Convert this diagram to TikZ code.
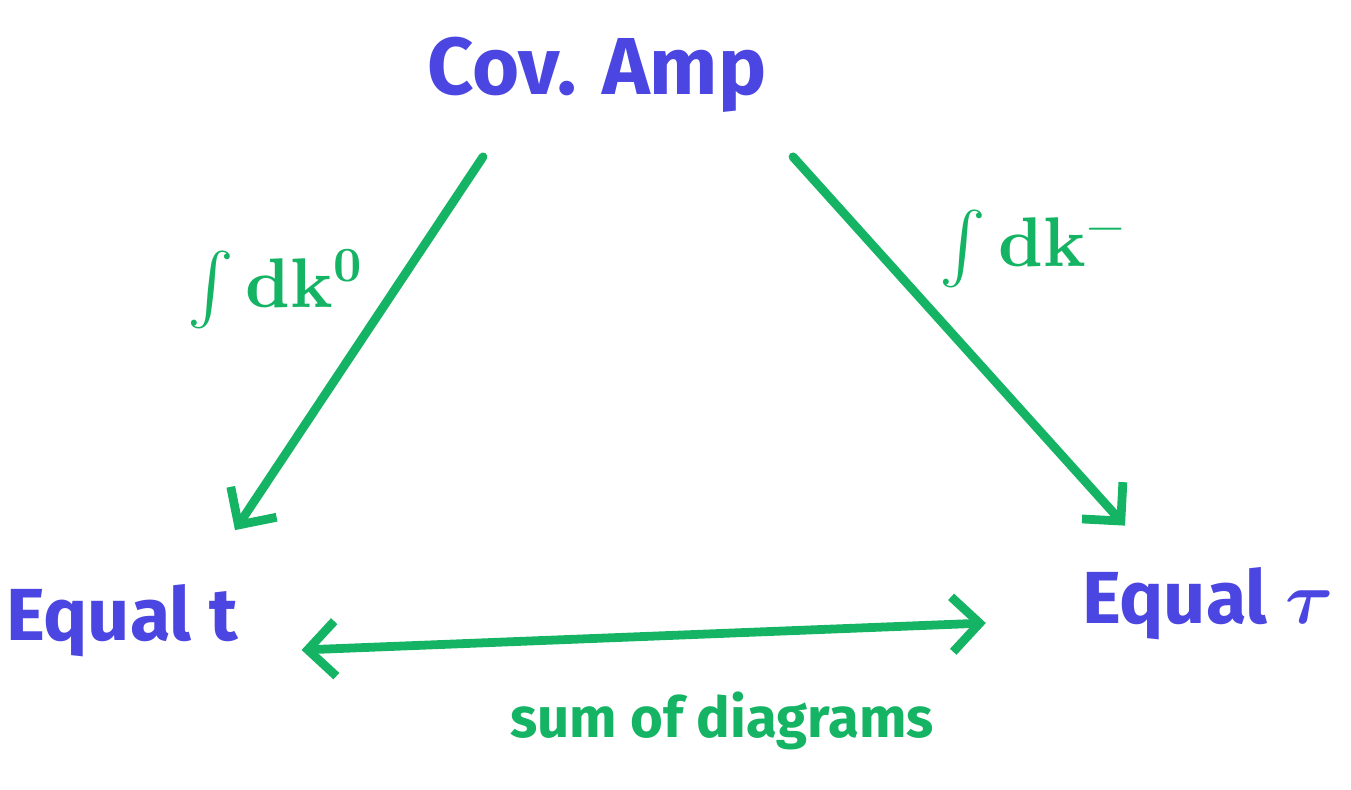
\documentclass[tikz,border=0pt]{standalone}
\usepackage{fontspec}
\usepackage{unicode-math}
\setmainfont{Fira Sans}
\setmathfont{Latin Modern Math}
\usepackage{tikz}
\usetikzlibrary{positioning}
\usetikzlibrary{arrows.meta}
\definecolor{penblue}{RGB}{75,70,225}
\definecolor{pengreen}{RGB}{20,180,100}
\tikzstyle{term} = [text=penblue, font=\fontsize{42}{50}\selectfont\bfseries, inner sep=2pt]
\tikzstyle{pathlabel} = [text=pengreen, font=\fontsize{40}{48}\selectfont\bfseries, inner sep=2pt]
\tikzstyle{penline} = [draw=pengreen, line width=5pt, line cap=round, line join=round]
\tikzstyle{barb} = [-{Straight Barb[length=0.55cm,width=1.1cm]}]
\tikzstyle{twobarb} = [{Straight Barb[length=0.55cm,width=1.1cm]}-{Straight Barb[length=0.55cm,width=1.1cm]}]

\begin{document}
\begin{tikzpicture}
			\useasboundingbox (0,0) rectangle (27.02,15.78);
			\node [term, font=\fontsize{46}{54}\selectfont\bfseries, anchor=base] (amp) at (11.94,13.88) {Cov. Amp};
			\node [term, anchor=base] (eqt) at (2.44,2.98) {Equal t};
			\node [term, anchor=base] (eqtau) at (24.14,3.32) {Equal $\symbf{\tau}$};
			\node [pathlabel] (kzero) at (5.5,10.0) {$\symbf{\int dk^0}$};
			\node [pathlabel] (kminus) at (20.65,10.8) {$\symbf{\int dk^-}$};
			\node [pathlabel, font=\fontsize{32}{38}\selectfont\bfseries, anchor=base] (sum) at (14.44,1.04) {sum of diagrams};
			\draw [penline, barb] ([xshift=-2.28cm,yshift=-0.8cm]amp.south) -- ([xshift=2.26cm,yshift=1.0cm]eqt.north);
			\draw [penline, barb] ([xshift=3.92cm,yshift=-0.8cm]amp.south) -- ([xshift=-1.64cm,yshift=0.75cm]eqtau.north);
			\draw [penline, twobarb] ([xshift=1.2cm,yshift=-0.2cm]eqt.base east) -- ([xshift=-1.85cm]eqtau.base west);
\end{tikzpicture}
\end{document}
